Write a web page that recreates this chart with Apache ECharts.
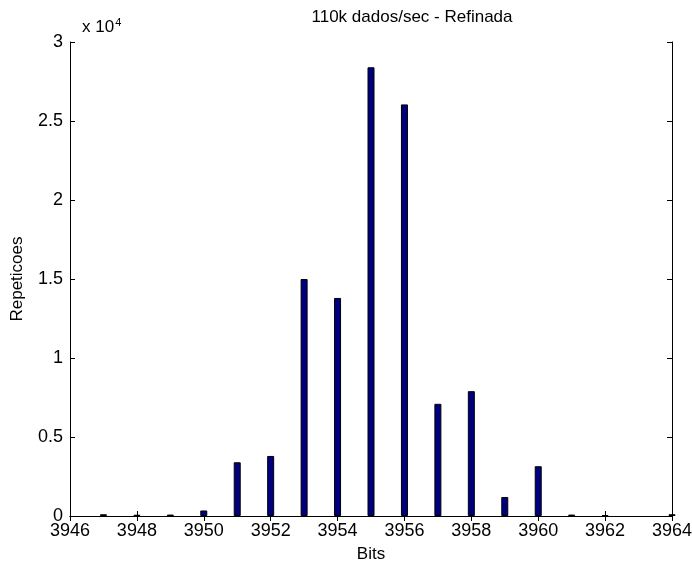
<!DOCTYPE html>
<html>
<head>
<meta charset="utf-8">
<script src="https://cdn.jsdelivr.net/npm/echarts@6/dist/echarts.min.js"></script>
<style>
  html, body { margin: 0; padding: 0; background: #fff; }
  #chart { width: 692px; height: 564px; }
</style>
</head>
<body>
<div id="chart"></div>
<script>
// Histogram of bit counts (repetitions per value)
const bits = [3947, 3948, 3949, 3950, 3951, 3952, 3953, 3954, 3955, 3956, 3957, 3958, 3959, 3960, 3961, 3962, 3964];
const repeticoes = [110, 80, 90, 350, 3400, 3800, 15000, 13800, 28400, 26050, 7100, 7900, 1200, 3150, 90, 60, 110];
const yTickLabels = ['0', '0.5', '1', '1.5', '2', '2.5', '3'];

const FONT = "'Liberation Sans', Arial, sans-serif";
const axisLine = { show: true, lineStyle: { color: '#000', width: 1 } };
const tickIn = { show: true, inside: true, length: 5, lineStyle: { color: '#000' } };

const chart = echarts.init(document.getElementById('chart'));
chart.setOption({
  animation: false,
  backgroundColor: '#fff',
  title: {
    text: '110k dados/sec - Refinada',
    left: 407, top: 4, textAlign: 'center',
    textStyle: { fontFamily: FONT, fontSize: 17, fontWeight: 'normal', color: '#000' }
  },
  grid: { left: 70, right: 20, top: 42, bottom: 48, containLabel: false, outerBoundsMode: 'none' },
  xAxis: [
    {
      type: 'value', min: 3946, max: 3964, interval: 2,
      name: 'Bits', nameLocation: 'middle', nameGap: 30,
      nameTextStyle: { fontFamily: FONT, fontSize: 17, color: '#000' },
      axisLine, axisTick: tickIn, splitLine: { show: false },
      axisLabel: { fontFamily: FONT, fontSize: 18, color: '#000', margin: 6, formatter: (v) => String(v) }
    },
    {
      type: 'value', position: 'top', min: 3946, max: 3964, interval: 2,
      axisLine, axisTick: tickIn, splitLine: { show: false }, axisLabel: { show: false }
    }
  ],
  yAxis: [
    {
      type: 'value', min: 0, max: 30000, interval: 5000,
      name: 'Repeticoes', nameLocation: 'middle', nameGap: 44, nameRotate: 90,
      nameTextStyle: { fontFamily: FONT, fontSize: 17, color: '#000' },
      axisLine, axisTick: tickIn, splitLine: { show: false },
      axisLabel: {
        fontFamily: FONT, fontSize: 18, color: '#000', margin: 7,
        formatter: (v) => yTickLabels[Math.round(v / 5000)]
      }
    },
    {
      type: 'value', position: 'right', min: 0, max: 30000, interval: 5000,
      axisLine, axisTick: tickIn, splitLine: { show: false }, axisLabel: { show: false }
    }
  ],
  graphic: [
    {
      type: 'text', left: 82, top: 17,
      style: {
        text: 'x 10{sup|4}',
        rich: { sup: { fontSize: 11, verticalAlign: 'top', padding: [0, 0, 10, 1] } },
        fontFamily: FONT, fontSize: 17, fill: '#000'
      }
    }
  ],
  series: [
    {
      type: 'bar',
      xAxisIndex: 0, yAxisIndex: 0,
      barWidth: 7,
      data: bits.map((b, i) => [b, repeticoes[i]]),
      itemStyle: { color: '#00007f', borderColor: '#000', borderWidth: 1 }
    }
  ]
});
</script>
</body>
</html>
